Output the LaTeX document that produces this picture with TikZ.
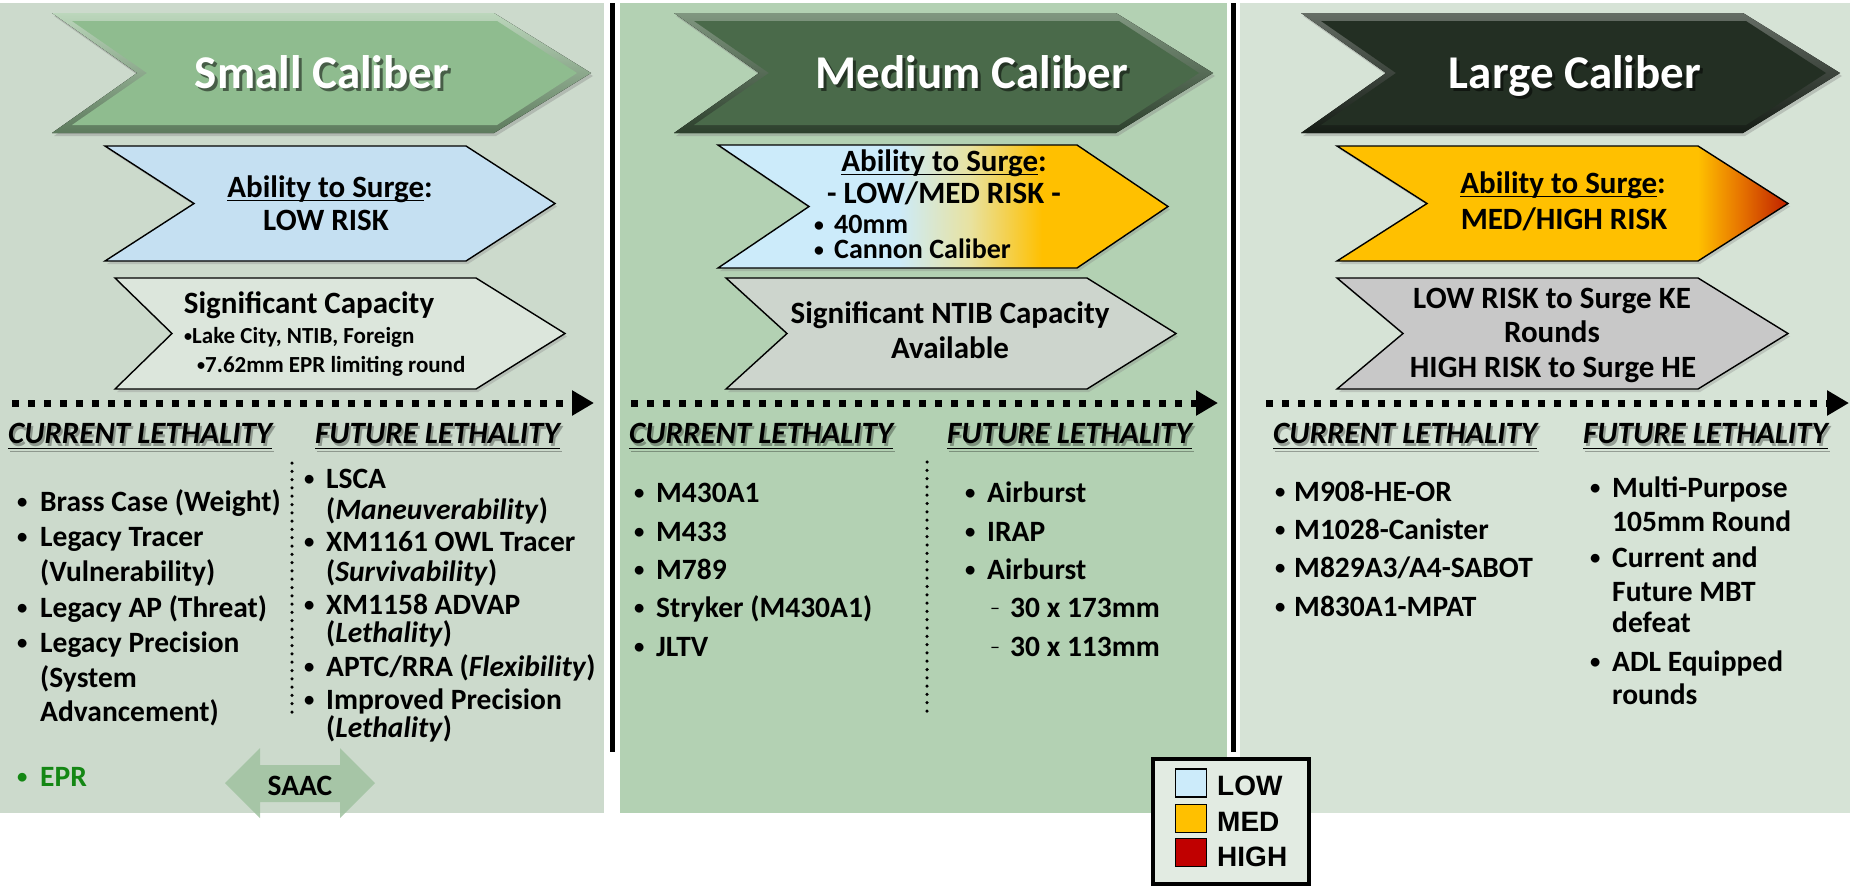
\documentclass[tikz,border=0pt]{standalone}
\usepackage{fontspec}
\setmainfont{Carlito}
\newfontfamily\legendfont{Liberation Sans}
\usetikzlibrary{arrows.meta,shadows}

\definecolor{panelone}{RGB}{204,218,204}
\definecolor{paneltwo}{RGB}{179,209,179}
\definecolor{panelthree}{RGB}{214,227,214}
\definecolor{smallgreen}{RGB}{143,188,143}
\definecolor{mediumgreen}{RGB}{74,106,74}
\definecolor{largegreen}{RGB}{35,47,35}
\definecolor{surgeblue}{RGB}{197,224,242}
\definecolor{lowblue}{RGB}{204,235,250}
\definecolor{midcream}{RGB}{232,226,160}
\definecolor{medyellow}{RGB}{255,192,0}
\definecolor{midorange}{RGB}{232,120,0}
\definecolor{tipred}{RGB}{192,32,0}
\definecolor{highred}{RGB}{192,0,0}
\definecolor{capgray}{RGB}{220,230,220}
\definecolor{ntibgray}{RGB}{205,213,205}
\definecolor{kegray}{RGB}{200,200,200}
\definecolor{eprgreen}{RGB}{20,135,20}
\definecolor{saacgreen}{RGB}{160,194,160}
\definecolor{legendbg}{RGB}{226,235,226}

\pgfdeclarehorizontalshading{lowmed}{100bp}{color(0bp)=(lowblue); color(45bp)=(lowblue); color(53bp)=(midcream); color(61bp)=(medyellow); color(100bp)=(medyellow)}
\pgfdeclarehorizontalshading{medhigh}{100bp}{color(0bp)=(medyellow); color(65bp)=(medyellow); color(69.5bp)=(midorange); color(75bp)=(tipred); color(100bp)=(tipred)}

% underline just under the baseline
\newcommand{\undl}[2][0.14em]{\setbox0\hbox{#2}\rlap{\rule[-#1]{\wd0}{0.055em}}\box0}
% smaller bullet
\newcommand{\bul}{\raisebox{0.07em}{\scalebox{0.7}{\textbullet}}}

\begin{document}
\begin{tikzpicture}[x=1pt,y=-1pt]
    \tikzset{
	chev/.style={draw=black, line width=1.4pt, line join=miter, drop shadow={opacity=0.3, shadow xshift=2pt, shadow yshift=-3pt}},
	hdrtext/.style={anchor=base, inner sep=0pt, text=white, font=\fontsize{47}{56}\selectfont\bfseries},
	hdrshadow/.style={hdrtext, text=black, opacity=0.5},
	chevtext/.style={anchor=base, inner sep=0pt, font=\fontsize{31}{37}\selectfont\bfseries},
	subtext/.style={anchor=base west, inner sep=0pt, font=\fontsize{23}{28}\selectfont\bfseries},
	item/.style={anchor=base west, inner sep=0pt, font=\fontsize{29.5}{35}\selectfont\bfseries},
	colhead/.style={anchor=base west, inner sep=0pt, font=\fontsize{31}{37}\selectfont\bfseries\itshape},
	colshadow/.style={colhead, text=black, opacity=0.3},
	timeline/.style={line width=7pt, dash pattern=on 7pt off 9pt, -{Triangle[length=22pt,width=24pt]}},
	vdots/.style={line width=3.5pt, line cap=round, dash pattern=on 0pt off 8.3pt},
	swatch/.style={draw=black, line width=1.5pt, minimum width=31pt, minimum height=28pt, inner sep=0pt},
	legtext/.style={anchor=base west, inner sep=0pt, font=\legendfont\fontsize{28}{34}\selectfont\bfseries}
    }
    \useasboundingbox (0,0) rectangle (1854,887);

    % panels
    \fill[panelone] (0,3) rectangle (604,813);
    \fill[paneltwo] (620,3) rectangle (1227,813);
    \fill[panelthree] (1240,3) rectangle (1850,813);
    \draw[line width=5pt] (612,3) -- (612,752);
    \draw[line width=5pt] (1233,3) -- (1233,752);

    % caliber headers
    \fill[top color=smallgreen!60!white, bottom color=smallgreen!65!black, drop shadow={opacity=.35,shadow xshift=2pt,shadow yshift=-3pt}]
	(52,13) -- (494,13) -- (591,73) -- (494,133) -- (52,133) -- (137,73) -- cycle;
    \fill[smallgreen] (72,21) -- (497,21) -- (577,73) -- (497,125) -- (72,125) -- (147,73) -- cycle;
    \fill[top color=mediumgreen!70!white, bottom color=mediumgreen!60!black, drop shadow={opacity=.35,shadow xshift=2pt,shadow yshift=-3pt}]
	(674,13) -- (1116,13) -- (1213,73) -- (1116,133) -- (674,133) -- (759,73) -- cycle;
    \fill[mediumgreen] (694,21) -- (1119,21) -- (1199,73) -- (1119,125) -- (694,125) -- (769,73) -- cycle;
    \fill[top color=largegreen!70!white, bottom color=largegreen!60!black, drop shadow={opacity=.35,shadow xshift=2pt,shadow yshift=-3pt}]
	(1301,13) -- (1743,13) -- (1840,73) -- (1743,133) -- (1301,133) -- (1386,73) -- cycle;
    \fill[largegreen] (1321,21) -- (1746,21) -- (1826,73) -- (1746,125) -- (1321,125) -- (1396,73) -- cycle;

    \node[hdrshadow] (smallsh) at (325,91) {Small Caliber};
    \node[hdrtext] (small) at (322,88) {Small Caliber};
    \node[hdrshadow] (mediumsh) at (975,91) {Medium Caliber};
    \node[hdrtext] (medium) at (972,88) {Medium Caliber};
    \node[hdrshadow] (largesh) at (1578,91) {Large Caliber};
    \node[hdrtext] (large) at (1575,88) {Large Caliber};

    % ability to surge
    \path[chev, fill=surgeblue] (105,146) -- (466,146) -- (555,203.5) -- (466,261) -- (105,261) -- (194,203.5) -- cycle;
    \path[chev, shading=lowmed] (718,145) -- (1077,145) -- (1168,206.5) -- (1077,268) -- (718,268) -- (809,206.5) -- cycle;
    \path[chev, shading=medhigh] (1337,146) -- (1698,146) -- (1788,203.5) -- (1698,261) -- (1337,261) -- (1427,203.5) -- cycle;

    \node[chevtext] (sa1) at (330,197) {\undl{Ability to Surge}:};
    \node[chevtext] (sa2) at (326,230) {LOW RISK};
    \node[chevtext] (ma1) at (944,171) {\undl{Ability to Surge}:};
    \node[chevtext] (ma2) at (944,203) {- LOW/MED RISK -};
    \node[item, font=\fontsize{28}{34}\selectfont\bfseries] (mab1) at (814,233) {\bul};
    \node[item, font=\fontsize{28}{34}\selectfont\bfseries] (mat1) at (834,233) {40mm};
    \node[item, font=\fontsize{28}{34}\selectfont\bfseries] (mab2) at (814,258) {\bul};
    \node[item, font=\fontsize{28}{34}\selectfont\bfseries] (mat2) at (834,258) {Cannon Caliber};
    \node[chevtext] (la1) at (1563,193) {\undl{Ability to Surge}:};
    \node[chevtext] (la2) at (1564,229) {MED/HIGH RISK};

    % capacity
    \path[chev, fill=capgray] (115,278) -- (476,278) -- (565,333.5) -- (476,389) -- (115,389) -- (172,333.5) -- cycle;
    \path[chev, fill=ntibgray] (726,278) -- (1087,278) -- (1176,333.5) -- (1087,389) -- (726,389) -- (787,333.5) -- cycle;
    \path[chev, fill=kegray] (1337,278) -- (1698,278) -- (1788,333.5) -- (1698,389) -- (1337,389) -- (1403,333.5) -- cycle;

    \node[chevtext] (sc1) at (309,313) {Significant Capacity};
    \node[subtext] (sc2) at (184,343) {\bul Lake City, NTIB, Foreign};
    \node[subtext] (sc3) at (197,372) {\bul 7.62mm EPR limiting round};
    \node[chevtext] (mc1) at (950,323) {Significant NTIB Capacity};
    \node[chevtext] (mc2) at (950,358) {Available};
    \node[chevtext] (lc1) at (1552,308) {LOW RISK to Surge KE};
    \node[chevtext] (lc2) at (1552,342) {Rounds};
    \node[chevtext] (lc3) at (1553,377) {HIGH RISK to Surge HE};

    % timelines
    \coordinate (st0) at (12,403);
    \coordinate (st1) at (594,403);
    \coordinate (mt0) at (631,403);
    \coordinate (mt1) at (1218,403);
    \coordinate (lt0) at (1266,403);
    \coordinate (lt1) at (1849,403);
    \draw[timeline] (st0) -- (st1);
    \draw[timeline] (mt0) -- (mt1);
    \draw[timeline] (lt0) -- (lt1);

    % column heads
    \foreach \x/\nm in {8/scur,629/mcur,1273/lcur}{
	\node[colshadow] (\nm sh) at (\x+2,446) {\undl[0.2em]{CURRENT LETHALITY}};
	\node[colhead] (\nm) at (\x,443) {\undl[0.2em]{CURRENT LETHALITY}};
    }
    \foreach \x/\nm in {315/sfut,947/mfut,1583/lfut}{
	\node[colshadow] (\nm sh) at (\x+2,446) {\undl[0.2em]{FUTURE LETHALITY}};
	\node[colhead] (\nm) at (\x,443) {\undl[0.2em]{FUTURE LETHALITY}};
    }

    \draw[vdots] (292,463) -- (292,715);
    \draw[vdots] (927,462) -- (927,713);

    % small caliber lists
    \foreach \yy/\txt [count=\i] in {511/{Brass Case (Weight)}, 546/{Legacy Tracer}, 581/{(Vulnerability)}, 617/{Legacy AP (Threat)}, 652/{Legacy Precision}, 687/{(System}, 721/{Advancement)}}{
	\node[item] (sct\i) at (40,\yy) {\txt};
    }
    \foreach \yy [count=\i] in {511,546,617,652}{
	\node[item] (scb\i) at (17,\yy) {\bul};
    }
    \node[item, text=eprgreen] (eprb) at (17,786) {\bul};
    \node[item, text=eprgreen] (epr) at (40,786) {EPR};

    \foreach \yy/\txt [count=\i] in {488/{LSCA}, 519/{(\textit{Maneuverability})}, 551/{XM1161 OWL Tracer}, 581/{(\textit{Survivability})}, 614/{XM1158 ADVAP}, 642/{(\textit{Lethality})}, 676/{APTC/RRA (\textit{Flexibility})}, 709/{Improved Precision}, 737/{(\textit{Lethality})}}{
	\node[item] (sft\i) at (326,\yy) {\txt};
    }
    \foreach \yy [count=\i] in {488,551,614,676,709}{
	\node[item] (sfb\i) at (304,\yy) {\bul};
    }

    % SAAC
    \fill[saacgreen, opacity=.85] (225,783) -- (260,748) -- (260,765) -- (340,765) -- (340,748) -- (375,783)
	-- (340,818) -- (340,802) -- (260,802) -- (260,818) -- cycle;
    \node[item, anchor=base] (saac) at (300,795) {SAAC};

    % medium caliber lists
    \foreach \yy/\txt [count=\i] in {502/{M430A1}, 541/{M433}, 579/{M789}, 617/{Stryker (M430A1)}, 656/{JLTV}}{
	\node[item] (mcb\i) at (634,\yy) {\bul};
	\node[item] (mct\i) at (656,\yy) {\txt};
    }
    \foreach \yy/\txt [count=\i] in {502/{Airburst}, 541/{IRAP}, 579/{Airburst}}{
	\node[item] (mfb\i) at (965,\yy) {\bul};
	\node[item] (mft\i) at (987,\yy) {\txt};
    }
    \foreach \yy/\txt [count=\i] in {617/{30 x 173mm}, 656/{30 x 113mm}}{
	\node[item, font=\fontsize{20}{24}\selectfont] (mfd\i) at (990,\yy-3) {--};
	\node[item] (mfs\i) at (1010,\yy) {\txt};
    }

    % large caliber lists
    \foreach \yy/\txt [count=\i] in {501/{M908-HE-OR}, 539/{M1028-Canister}, 577/{M829A3/A4-SABOT}, 616/{M830A1-MPAT}}{
	\node[item] (lcb\i) at (1275,\yy) {\bul};
	\node[item] (lct\i) at (1294,\yy) {\txt};
    }
    \foreach \yy/\txt [count=\i] in {497/{Multi-Purpose}, 531/{105mm Round}, 567/{Current and}, 601/{Future MBT}, 632/{defeat}, 671/{ADL Equipped}, 704/{rounds}}{
	\node[item] (lft\i) at (1612,\yy) {\txt};
    }
    \foreach \yy [count=\i] in {497,567,671}{
	\node[item] (lfb\i) at (1590,\yy) {\bul};
    }

    % legend
    \node[draw, line width=4pt, fill=legendbg, minimum width=156pt, minimum height=125pt, inner sep=0pt] (legend) at (1231,821.5) {};
    \node[swatch, fill=lowblue] (lowsw) at (1191,783) {};
    \node[swatch, fill=medyellow] (medsw) at (1191,818.5) {};
    \node[swatch, fill=highred] (highsw) at (1191,852.5) {};
    \node[legtext] (lowtx) at (1217,795) {LOW};
    \node[legtext] (medtx) at (1217,831) {MED};
    \node[legtext] (hightx) at (1217,866) {HIGH};
\end{tikzpicture}
\end{document}
